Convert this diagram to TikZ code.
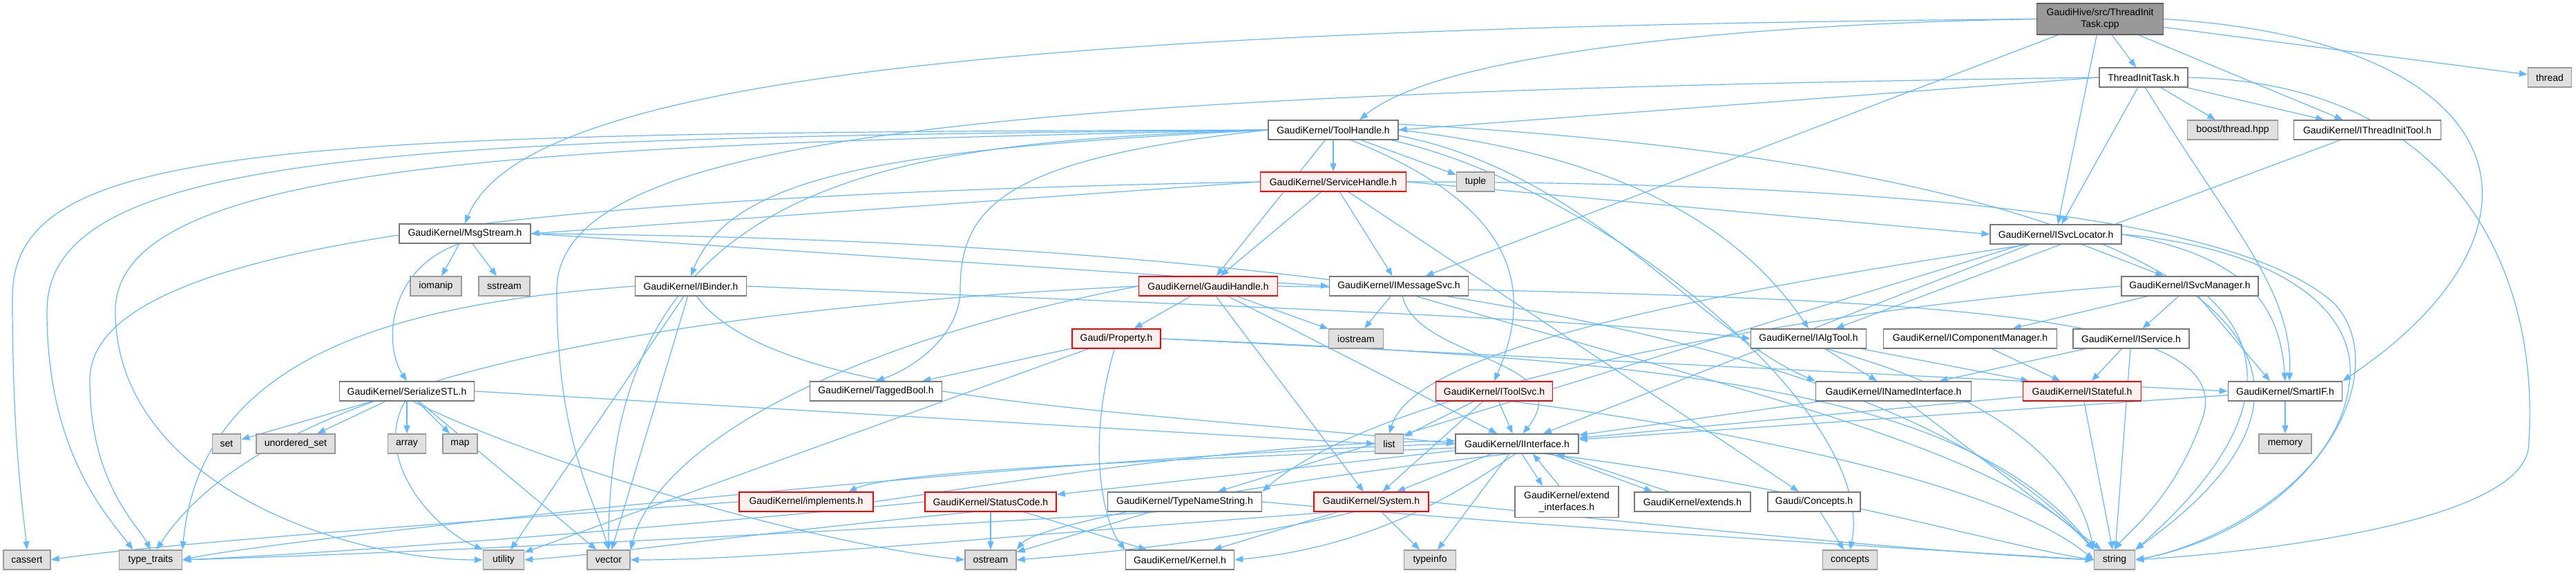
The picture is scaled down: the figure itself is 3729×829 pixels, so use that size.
\documentclass[tikz,border=0pt]{standalone}
\usepackage{fontspec}
\setmainfont{Liberation Sans}
\usetikzlibrary{arrows.meta,backgrounds}

\definecolor{incblue}{HTML}{63B8FF}
\definecolor{boxgray}{HTML}{777777}
\definecolor{sysgray}{HTML}{999999}
\definecolor{sysfill}{HTML}{E0E0E0}
\definecolor{redfill}{HTML}{FFF0F0}

\begin{document}
\begin{tikzpicture}[
        x=1pt, y=-1pt,
        filenode/.style={rectangle, draw=boxgray, fill=white, line width=1.4pt, inner sep=1pt, minimum height=28pt, font=\fontsize{14pt}{17pt}\selectfont, align=center},
        rednode/.style={filenode, draw=red, fill=redfill},
        sysnode/.style={filenode, draw=sysgray, fill=sysfill},
        mainnode/.style={filenode, draw=boxgray!80!black, fill=sysgray, minimum height=45pt},
        incl/.style={draw=incblue, line width=1.2pt, -{Triangle[length=12pt,width=9pt]}},
        ]
                \useasboundingbox (0,0) rectangle (3729,829);

                % top rows
                \node[mainnode, minimum width=183pt]  at(3040,27.5) (main) {GaudiHive/src/ThreadInit\\Task.cpp};
                \node[filenode, minimum width=128pt]  at(3103,112) (tith) {ThreadInitTask.h};
                \node[sysnode, minimum width=63pt]   at(3691,112) (thread) {thread};
                \node[sysnode, minimum width=131pt]  at(3232,188) (boost) {boost/thread.hpp};
                \node[filenode, minimum width=213pt] at(3427,188) (itit) {GaudiKernel/IThreadInitTool.h};
                \node[filenode, minimum width=188pt] at(1930,188) (toolh) {GaudiKernel/ToolHandle.h};
                \node[rednode, minimum width=211pt]  at(1930,263) (svch) {GaudiKernel/ServiceHandle.h};
                \node[sysnode, minimum width=55pt]   at(2136,263) (tuple) {tuple};
                \node[filenode, minimum width=190pt] at(673,338) (msgs) {GaudiKernel/MsgStream.h};
                \node[filenode, minimum width=190pt] at(2976,339) (isvcl) {GaudiKernel/ISvcLocator.h};

                % middle rows
                \node[rednode, minimum width=201pt]  at(1749,414) (gaudih) {GaudiKernel/GaudiHandle.h};
                \node[filenode, minimum width=201pt] at(2025,414) (imsg) {GaudiKernel/IMessageSvc.h};
                \node[sysnode, minimum width=74pt]   at(631,414) (iomanip) {iomanip};
                \node[sysnode, minimum width=74pt]   at(730,414) (sstream) {sstream};
                \node[filenode, minimum width=161pt] at(1000,414) (ibinder) {GaudiKernel/IBinder.h};
                \node[filenode, minimum width=198pt] at(3170,414) (isvcm) {GaudiKernel/ISvcManager.h};
                \node[rednode, minimum width=128pt]  at(1616,490) (prop) {Gaudi/Property.h};
                \node[sysnode, minimum width=79pt]   at(1963,490) (iostream) {iostream};
                \node[filenode, minimum width=167pt] at(2618,490) (ialgtool) {GaudiKernel/IAlgTool.h};
                \node[filenode, minimum width=251pt] at(2852,490) (icompm) {GaudiKernel/IComponentManager.h};
                \node[filenode, minimum width=168pt] at(3085,490) (iservice) {GaudiKernel/IService.h};
                \node[filenode, minimum width=195pt] at(589,566) (serstl) {GaudiKernel/SerializeSTL.h};
                \node[filenode, minimum width=191pt] at(1268,566) (tagged) {GaudiKernel/TaggedBool.h};
                \node[rednode, minimum width=169pt]  at(2163,566) (itoolsvc) {GaudiKernel/IToolSvc.h};
                \node[filenode, minimum width=225pt] at(2741,566) (inamed) {GaudiKernel/INamedInterface.h};
                \node[rednode, minimum width=171pt]  at(3014,566) (istateful) {GaudiKernel/IStateful.h};
                \node[filenode, minimum width=165pt] at(3308,566) (smartif) {GaudiKernel/SmartIF.h};
                \node[sysnode, minimum width=41pt]   at(328,642) (set) {set};
                \node[sysnode, minimum width=114pt]  at(428,642) (uset) {unordered\_set};
                \node[sysnode, minimum width=55pt]   at(589,642) (array) {array};
                \node[sysnode, minimum width=50pt]   at(666,642) (map) {map};
                \node[sysnode, minimum width=41pt]   at(2011,642) (list) {list};
                \node[filenode, minimum width=178pt] at(2196,642) (iiface) {GaudiKernel/IInterface.h};
                \node[sysnode, minimum width=76pt]   at(3308,642) (memory) {memory};

                % lower rows
                \node[rednode, minimum width=194pt]  at(1167,726) (implements) {GaudiKernel/implements.h};
                \node[rednode, minimum width=190pt]  at(1434,726) (statusc) {GaudiKernel/StatusCode.h};
                \node[filenode, minimum width=223pt] at(1715,726) (tns) {GaudiKernel/TypeNameString.h};
                \node[rednode, minimum width=166pt]  at(1985,726) (system) {GaudiKernel/System.h};
                \node[filenode, minimum width=150pt, minimum height=45pt] at(2268,726) (extif) {GaudiKernel/extend\\\_interfaces.h};
                \node[filenode, minimum width=168pt] at(2450,726) (extends) {GaudiKernel/extends.h};
                \node[filenode, minimum width=134pt] at(2626,726) (gconcepts) {Gaudi/Concepts.h};
                \node[sysnode, minimum width=68pt]   at(39,810) (cassert) {cassert};
                \node[sysnode, minimum width=91pt]   at(218,810) (typetr) {type\_traits};
                \node[sysnode, minimum width=59pt]   at(729,810) (utility) {utility};
                \node[sysnode, minimum width=62pt]   at(881,810) (vector) {vector};
                \node[sysnode, minimum width=74pt]   at(1434,810) (ostream) {ostream};
                \node[filenode, minimum width=157pt] at(1708,810) (kernel) {GaudiKernel/Kernel.h};
                \node[sysnode, minimum width=75pt]   at(2070,810) (typeinfo) {typeinfo};
                \node[sysnode, minimum width=79pt]   at(2678,810) (concepts) {concepts};
                \node[sysnode, minimum width=59pt]   at(3061,810) (string) {string};

                \begin{scope}[on background layer]
                % ThreadInitTask.cpp
                \draw[incl] (main)  --  (tith) ;
                \draw[incl] (main)  --  (thread) ;
                \draw[incl] (main)  --  (isvcl) ;
                \draw[incl] (main)  --  (itit) ;
                \draw[incl] (main)  --  (imsg) ;
                \draw[incl] (main.west) .. controls (2500,35) and (2080,80) .. (toolh.21) ;
                \draw[incl] (main.west) .. controls (1500,40) and (760,110) .. (msgs.north) ;
                \draw[incl] (main.east) .. controls (3650,60) and (3720,330) .. (smartif.north east) ;

                % ThreadInitTask.h
                \draw[incl] (tith)  --  (isvcl) ;
                \draw[incl] (tith)  --  (boost) ;
                \draw[incl] (tith)  --  (itit) ;
                \draw[incl] (tith.-80) .. controls (3230,330) and (3320,420) .. ([xshift=6pt]smartif.north) ;
                \draw[incl] (tith.west)  --  (toolh.east) ;
                \draw[incl] (tith.west) .. controls (1400,135) and (806,200) .. (806,420) .. controls (806,640) and (860,720) .. (vector.north) ;
                \draw[incl] (tith.east) .. controls (3560,120) and (3680,400) .. (3660,650) .. controls (3640,760) and (3250,800) .. (string.east) ;
                \draw[incl] (itit)  --  (ialgtool) ;

                % ToolHandle.h
                \draw[incl] (toolh)  --  (svch) ;
                \draw[incl] (toolh)  --  (tuple) ;
                \draw[incl] (toolh)  --  (gaudih) ;
                \draw[incl] (toolh.-30) .. controls (2200,300) and (2220,420) .. (itoolsvc.north) ;
                \draw[incl] (toolh.east) .. controls (2350,225) and (2520,330) .. (ialgtool.north) ;
                \draw[incl] (toolh.-5) .. controls (2300,250) and (2460,480) .. (inamed.north west) ;
                \draw[incl] (toolh.-10) .. controls (2320,270) and (2720,600) .. (concepts.north) ;
                \draw[incl] (toolh.5) .. controls (3000,230) and (3560,460) .. (string.north east) ;
                \draw[incl] (toolh.west) .. controls (1450,230) and (1390,300) .. (1390,420) .. controls (1390,480) and (1330,530) .. (tagged.north) ;
                \draw[incl] (toolh.west) .. controls (400,192) and (18,205) .. (18,430) .. controls (18,650) and (35,750) .. (cassert.north) ;
                \draw[incl] (toolh.west) .. controls (600,200) and (68,215) .. (68,450) .. controls (68,650) and (150,740) .. (typetr.150) ;
                \draw[incl] (toolh.west) .. controls (800,210) and (167,230) .. (167,450) .. controls (167,700) and (500,810) .. (utility.west) ;
                \draw[incl] (toolh.west) .. controls (1300,205) and (881,250) .. (vector.north) ;
                \draw[incl] (toolh.west) .. controls (1300,215) and (1060,250) .. (ibinder.north) ;

                % ServiceHandle.h
                \draw[incl] (svch)  --  (gaudih) ;
                \draw[incl] (svch)  --  (imsg) ;
                \draw[incl] (svch.east)  --  (isvcl.west) ;
                \draw[incl] (svch.west)  --  (msgs.east) ;
                \draw[incl] (svch)  --  (gconcepts) ;
                \draw[incl] (svch.east) .. controls (2800,265) and (3250,320) .. (3380,440) .. controls (3470,540) and (3350,760) .. (string.east) ;
                \draw[incl] (svch.west) .. controls (700,285) and (130,360) .. (130,550) .. controls (130,700) and (200,760) .. (typetr.north) ;

                % GaudiHandle.h, Property.h, IMessageSvc.h
                \draw[incl] (gaudih)  --  (prop) ;
                \draw[incl] (gaudih)  --  (iostream) ;
                \draw[incl] (gaudih)  --  (system) ;
                \draw[incl] (gaudih)  --  (iiface) ;
                \draw[incl] (gaudih.east) .. controls (2800,430) and (3230,450) .. (3190,600) .. controls (3150,720) and (3080,770) .. (string.north) ;
                \draw[incl] (gaudih.west) .. controls (900,450) and (380,560) .. (typetr.60) ;
                \draw[incl] (gaudih.west) .. controls (1200,500) and (950,650) .. (vector.north east) ;
                \draw[incl] (prop)  --  (tagged) ;
                \draw[incl] (prop)  --  (utility) ;
                \draw[incl] (prop.east)  --  (smartif.west) ;
                \draw[incl] (prop.-100) .. controls (1570,650) and (1600,760) .. (kernel.north west) ;
                \draw[incl] (prop.east) .. controls (2400,520) and (2850,560) .. (string.north west) ;
                \draw[incl] (imsg)  --  (iostream) ;
                \draw[incl] (imsg.-70) .. controls (2050,520) and (2290,520) .. (iiface.60) ;
                \draw[incl] (imsg.-30) .. controls (2500,560) and (2900,650) .. (string.north west) ;

                % MsgStream.h, IBinder.h, SerializeSTL.h
                \draw[incl] (msgs)  --  (iomanip) ;
                \draw[incl] (msgs)  --  (sstream) ;
                \draw[incl] (msgs.east)  --  (imsg.west) ;
                \draw[incl] (msgs.-120) .. controls (560,390) and (555,500) .. (serstl.north) ;
                \draw[incl] (msgs.east) .. controls (1600,345) and (2700,420) .. (string.north west) ;
                \draw[incl] (ibinder)  --  (utility) ;
                \draw[incl] (ibinder)  --  (vector) ;
                \draw[incl] (ibinder.west) .. controls (560,440) and (290,520) .. (typetr.north east) ;
                \draw[incl] (ibinder.-60) .. controls (1120,580) and (1600,590) .. (iiface.west) ;
                \draw[incl] (ibinder.east) .. controls (1700,440) and (2300,460) .. (ialgtool.west) ;
                \draw[incl] (serstl)  --  (set) ;
                \draw[incl] (serstl)  --  (uset) ;
                \draw[incl] (serstl)  --  (array) ;
                \draw[incl] (serstl)  --  (map) ;
                \draw[incl] (serstl)  --  (vector) ;
                \draw[incl] (serstl.east)  --  (list.west) ;
                \draw[incl] (serstl.-100) .. controls (540,660) and (620,760) .. (utility.north west) ;
                \draw[incl] (serstl.-60) .. controls (800,680) and (1200,790) .. (ostream.west) ;

                % ISvcLocator.h, ISvcManager.h and the interfaces
                \draw[incl] (isvcl)  --  (isvcm) ;
                \draw[incl] (isvcl)  --  (iiface) ;
                \draw[incl] (isvcl)  --  (tns) ;
                \draw[incl] (isvcl.east) .. controls (3250,370) and (3300,440) .. (smartif.north) ;
                \draw[incl] (isvcl.east) .. controls (3300,360) and (3420,450) .. (3400,560) .. controls (3380,700) and (3200,790) .. (string.east) ;
                \draw[incl] (isvcl.-160) .. controls (2500,420) and (2050,500) .. (list.north) ;
                \draw[incl] (isvcm)  --  (icompm) ;
                \draw[incl] (isvcm)  --  (iservice) ;
                \draw[incl] (isvcm)  --  ([xshift=-22pt]smartif.north) ;
                \draw[incl] (isvcm.-30) .. controls (3330,550) and (3200,700) .. (string.north east) ;
                \draw[incl] (isvcm.west) .. controls (2600,450) and (2000,560) .. (tns.north east) ;
                \draw[incl] (iservice)  --  (inamed) ;
                \draw[incl] (iservice)  --  (istateful) ;
                \draw[incl] (iservice)  --  (string) ;
                \draw[incl] (icompm)  --  (istateful) ;
                \draw[incl] (ialgtool)  --  (inamed) ;
                \draw[incl] (ialgtool)  --  (istateful) ;
                \draw[incl] (ialgtool.-30) .. controls (2850,560) and (3000,650) .. (string.north west) ;
                \draw[incl] (inamed)  --  (iiface) ;
                \draw[incl] (inamed)  --  (string) ;
                \draw[incl] (istateful)  --  (iiface) ;
                \draw[incl] (istateful)  --  (string) ;
                \draw[incl] (smartif)  --  (iiface) ;
                \draw[incl] (smartif)  --  (memory) ;
                \draw[incl] (itoolsvc)  --  (list) ;
                \draw[incl] (itoolsvc)  --  (iiface) ;
                \draw[incl] (itoolsvc)  --  (system) ;
                \draw[incl] (itoolsvc.-30) .. controls (2500,620) and (2900,700) .. (string.west) ;

                % IInterface.h and the bottom rows
                \draw[incl] (iiface)  --  (statusc) ;
                \draw[incl] (iiface)  --  (system) ;
                \draw[incl] (iiface)  --  (typeinfo) ;
                \draw[incl] ([xshift=7pt]iiface.south)  --  ([xshift=-35pt]extif.north) ;
                \draw[incl] ([xshift=-11pt]extif.north)  --  ([xshift=23pt]iiface.south) ;
                \draw[incl] ([xshift=49pt]iiface.south)  --  ([xshift=-58pt]extends.north) ;
                \draw[incl] ([xshift=-34pt]extends.north)  --  ([xshift=57pt]iiface.south) ;
                \draw[incl] ([yshift=-6pt]iiface.west) .. controls (1700,665) and (1300,680) .. ([xshift=61pt]implements.north) ;
                \draw[incl] (implements.east) .. controls (1450,700) and (1800,640) .. ([yshift=4pt]iiface.west) ;
                \draw[incl] (iiface.-100) .. controls (2130,700) and (2000,790) .. (kernel.east) ;
                \draw[incl] (iiface.-130) .. controls (1800,700) and (1500,760) .. (ostream.north east) ;
                \draw[incl] (iiface.-20) .. controls (2600,700) and (2900,790) .. (string.west) ;
                \draw[incl] (iiface.west) .. controls (1500,660) and (400,780) .. (typetr.east) ;
                \draw[incl] (implements.west) .. controls (600,760) and (200,790) .. (cassert.east) ;
                \draw[incl] (statusc)  --  (ostream) ;
                \draw[incl] (statusc)  --  (kernel) ;
                \draw[incl] (statusc.west) .. controls (1000,760) and (500,800) .. (typetr.east) ;
                \draw[incl] (statusc.-150) .. controls (1100,770) and (900,800) .. (utility.east) ;
                \draw[incl] (tns)  --  (ostream) ;
                \draw[incl] (tns.east) .. controls (2200,760) and (2700,790) .. (string.west) ;
                \draw[incl] (tns.-160) .. controls (1200,770) and (600,800) .. (typetr.east) ;
                \draw[incl] (system)  --  (kernel) ;
                \draw[incl] (system)  --  (typeinfo) ;
                \draw[incl] (system.east) .. controls (2400,760) and (2800,800) .. (string.west) ;
                \draw[incl] (system.-150) .. controls (1800,780) and (1600,800) .. (ostream.east) ;
                \draw[incl] (system.-165) .. controls (1400,780) and (1100,810) .. (vector.east) ;
                \draw[incl] (gconcepts)  --  (concepts) ;
                \end{scope}

            \end{tikzpicture}
\end{document}
